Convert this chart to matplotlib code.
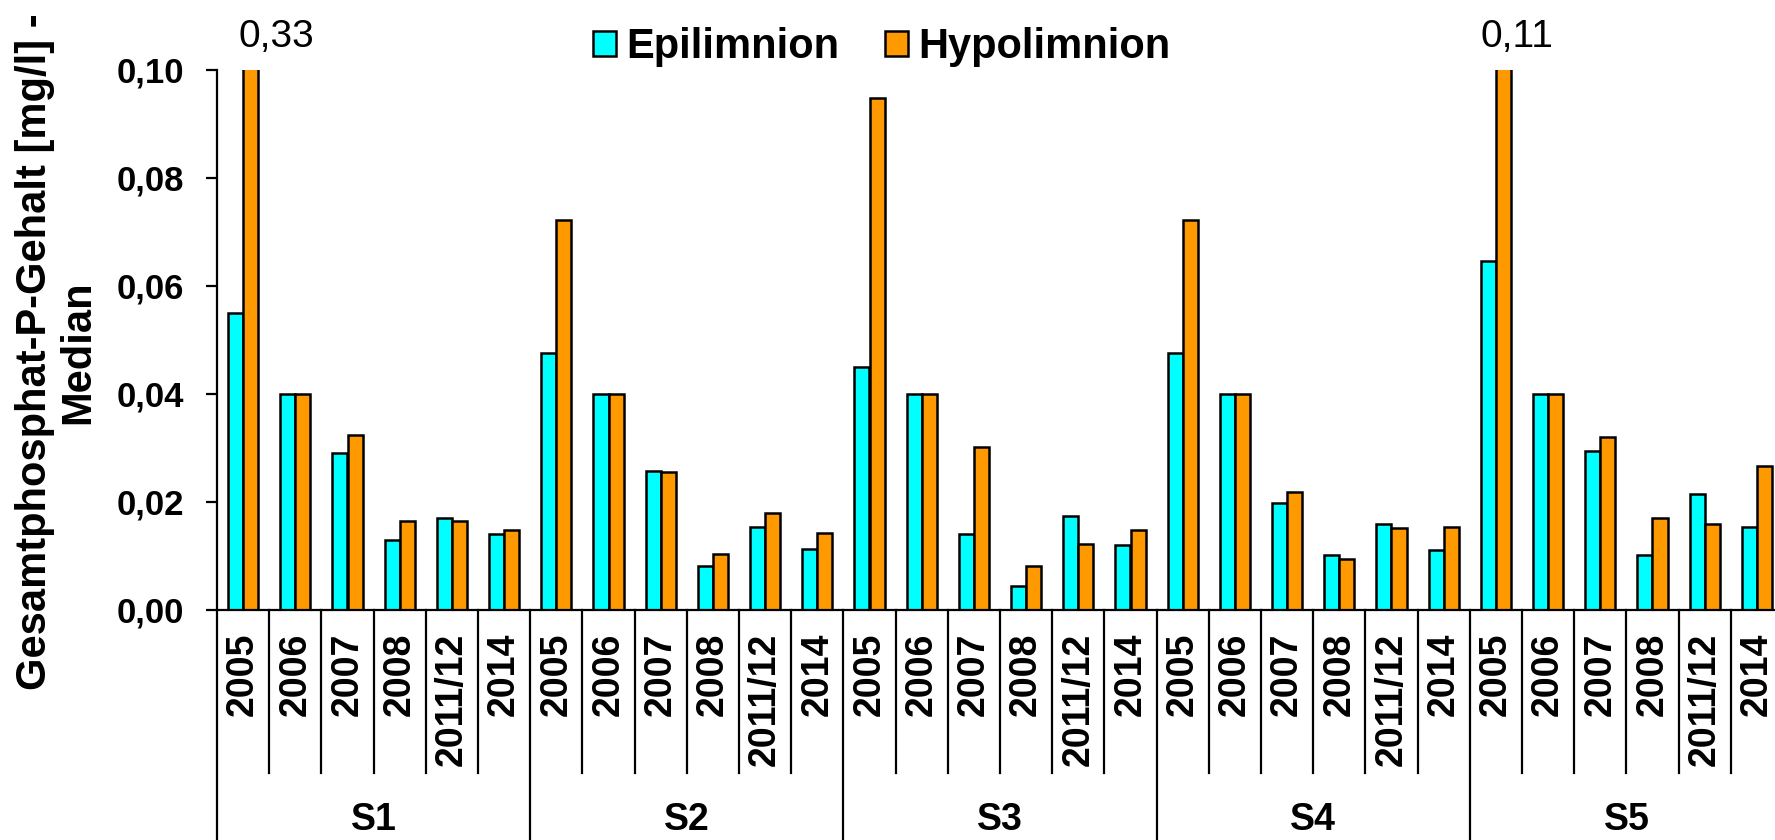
import numpy as np
import matplotlib
matplotlib.use('Agg')
import matplotlib.pyplot as plt

plt.rcParams['font.family'] = ['Liberation Sans', 'DejaVu Sans']

stations = ['S1', 'S2', 'S3', 'S4', 'S5']
years = ['2005', '2006', '2007', '2008', '2011/12', '2014']
ylabel_lines = ['Gesamtphosphat-P-Gehalt [mg/l] -', 'Median']

# Median Gesamtphosphat-P [mg/l], one row per station, one value per year
epi = [
    [0.0550, 0.040, 0.0290, 0.0130, 0.0171, 0.0141],
    [0.0476, 0.040, 0.0258, 0.0082, 0.0154, 0.0113],
    [0.0450, 0.040, 0.0141, 0.0045, 0.0175, 0.0120],
    [0.0476, 0.040, 0.0198, 0.0101, 0.0160, 0.0111],
    [0.0647, 0.040, 0.0295, 0.0101, 0.0214, 0.0153],
]
hypo = [
    [0.33, 0.040, 0.0324, 0.0164, 0.0164, 0.0149],
    [0.0722, 0.040, 0.0255, 0.0103, 0.0180, 0.0143],
    [0.0948, 0.040, 0.0301, 0.0082, 0.0123, 0.0149],
    [0.0722, 0.040, 0.0218, 0.0094, 0.0151, 0.0153],
    [0.11, 0.040, 0.0321, 0.0171, 0.0160, 0.0266],
]

y_max = 0.10
cyan = '#00FFFF'
orange = '#FF9900'

epi_flat = np.array(epi).ravel()
hypo_flat = np.array(hypo).ravel()
n = len(epi_flat)
x = np.arange(n)
w = 0.29

fig = plt.figure(figsize=(17.75, 8.4), dpi=100)
ax = fig.add_axes([217 / 1775, 230 / 840, 1566 / 1775, 540 / 840])

ax.bar(x - w / 2, epi_flat, w, color=cyan, edgecolor='black', linewidth=1.8,
       label='Epilimnion')
ax.bar(x + w / 2, hypo_flat, w, color=orange, edgecolor='black', linewidth=1.8,
       label='Hypolimnion')

ax.set_xlim(-0.5, n - 0.5)
ax.set_ylim(0, y_max)
ax.set_yticks(np.arange(0, 0.101, 0.02))
ax.set_yticklabels([f'{v:.2f}'.replace('.', ',') for v in np.arange(0, 0.101, 0.02)],
                   fontsize=25, fontweight='bold')
ax.tick_params(axis='y', direction='out', length=8, width=1.6, pad=16)
ax.set_xticks([])
for s in ['top', 'right']:
    ax.spines[s].set_visible(False)
ax.spines['left'].set_linewidth(1.6)
ax.spines['bottom'].set_linewidth(1.6)

# values above the axis limit
offsets = {0: 0.5, 4: 0.25}
tr = ax.get_xaxis_transform()
for i, v in enumerate(hypo_flat):
    if v > y_max:
        off = offsets.get(i // len(years), 0.3)
        ax.text(x[i] + w / 2 + off, 1.062, f'{v:.2f}'.replace('.', ','),
                transform=tr, ha='center', va='center', fontsize=28, clip_on=False)

# two-level category axis
for k in range(n + 1):
    bottom = -0.45 if k % len(years) == 0 else -0.302
    ax.plot([k - 0.5, k - 0.5], [0, bottom], transform=tr, color='black',
            lw=1.6, clip_on=False)
for i in range(n):
    ax.text(x[i], -0.042, years[i % len(years)], transform=tr, rotation=90,
            ha='center', va='top', fontsize=27, fontweight='bold')
for g, s in enumerate(stations):
    xc = g * len(years) + (len(years) - 1) / 2
    ax.text(xc, -0.389, s, transform=tr, ha='center', va='center',
            fontsize=27, fontweight='bold')

# y label, two lines
for xpos, line in zip([35, 78], ylabel_lines):
    fig.text(xpos / 1775, 1 - 352 / 840, line, rotation=90, ha='center',
             va='center', fontsize=30, fontweight='bold')

ax.legend(loc='center', bbox_to_anchor=(882 / 1775, 1 - 47 / 840),
          bbox_transform=fig.transFigure, ncol=2, frameon=False,
          prop={'size': 30, 'weight': 'bold'}, handlelength=0.55,
          handleheight=0.55, handletextpad=0.25, columnspacing=1.1)

fig.savefig('out.png', dpi=100)
